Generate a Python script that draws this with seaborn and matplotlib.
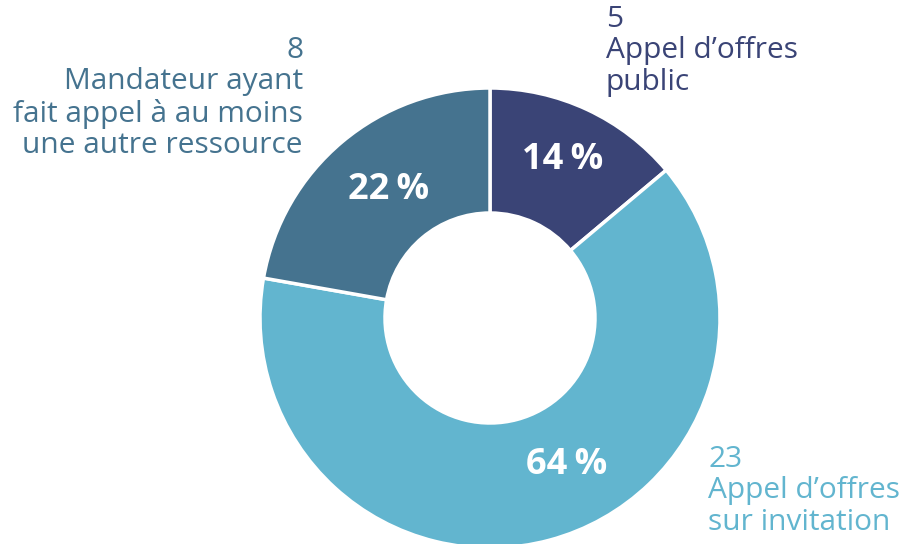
import matplotlib
matplotlib.use("Agg")
from matplotlib import pyplot as plt
import seaborn as sns

sns.set_theme(style="white")
plt.rcParams['font.family'] = ['Open Sans', 'DejaVu Sans']

counts = [5, 23, 8]
percents = ['14\u2009%', '64\u2009%', '22\u2009%']
labels = ["5\nAppel d\u2019offres\npublic",
          "23\nAppel d\u2019offres\nsur invitation",
          "8\nMandateur ayant\nfait appel \u00e0 au moins\nune autre ressource"]
colors = ['#3a4476', '#62b5cf', '#45738f']

W, H = 909, 544
fig = plt.figure(figsize=(W / 100, H / 100), dpi=100)
ax = fig.add_axes([0, 0, 1, 1])

cx, cy, r = 490, H - 318, 230
wedges, _ = ax.pie(counts, colors=colors, startangle=90, counterclock=False,
                   center=(cx, cy), radius=r, frame=True,
                   wedgeprops=dict(width=r - 105, edgecolor='white', linewidth=2.5))
ax.set_xlim(0, W)
ax.set_ylim(0, H)
ax.set_aspect('equal')
ax.axis('off')

# percentage labels inside the ring
pct_pos = [(563, 160), (567, 465), (389, 190)]
for (x, y), p in zip(pct_pos, percents):
    ax.text(x, H - y, p, color='white', fontsize=26, fontweight='bold',
            ha='center', va='center')

# outer labels
ax.text(606, H - 5, labels[0], color=colors[0], fontsize=21.5, ha='left', va='top',
        linespacing=1.11)
ax.text(708, H - 445, labels[1], color=colors[1], fontsize=21.5, ha='left', va='top',
        linespacing=1.11)
ax.text(303, H - 36, labels[2], color=colors[2], fontsize=21.5, ha='right', va='top',
        linespacing=1.11)

fig.savefig('out.png', dpi=100)
